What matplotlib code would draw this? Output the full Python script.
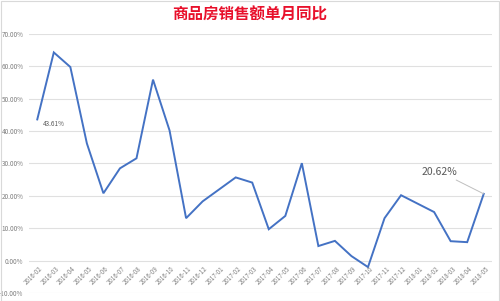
import matplotlib
matplotlib.use("Agg")
import matplotlib.pyplot as plt
from matplotlib.patches import Rectangle

plt.rcParams['font.family'] = ['Noto Sans CJK SC', 'DejaVu Sans']

months = ["2016-02", "2016-03", "2016-04", "2016-05", "2016-06", "2016-07", "2016-08",
          "2016-09", "2016-10", "2016-11", "2016-12", "2017-01", "2017-02", "2017-03",
          "2017-04", "2017-05", "2017-06", "2017-07", "2017-08", "2017-09", "2017-10",
          "2017-11", "2017-12", "2018-01", "2018-02", "2018-03", "2018-04", "2018-05"]
yoy = [43.61, 64.3, 59.8, 36.2, 20.8, 28.5, 31.6, 55.9, 40.2, 13.1, 18.3, 22.0, 25.7, 24.1,
       9.7, 13.8, 30.1, 4.5, 6.1, 1.4, -2.0, 13.1, 20.2, 17.6, 15.0, 6.0, 5.7, 20.62]
yticks = [-10, 0, 10, 20, 30, 40, 50, 60, 70]
title = "商品房销售额单月同比"

fig = plt.figure(figsize=(5.0, 3.01), dpi=100)
fig.patches.append(Rectangle((0.001, 0.001), 0.997, 0.996, transform=fig.transFigure,
                             fill=False, edgecolor='#d9d9d9', lw=0.8))
ax = fig.add_axes([0.058, 0.0266, 0.926, 0.8605])

x = list(range(len(months)))
ax.plot(x, yoy, color='#4472C4', lw=1.4, solid_joinstyle='miter')
ax.set_xlim(-0.5, len(months) - 0.5)
ax.set_ylim(-10, 70)
ax.set_yticks(yticks)
ax.set_yticklabels([f"{v:.2f}%" for v in yticks], fontsize=4.6, color='#7f7f7f')
ax.yaxis.grid(True, color='#e0e0e0', lw=0.8)
ax.set_axisbelow(True)
ax.tick_params(axis='y', length=0, pad=4)
ax.tick_params(axis='x', length=0)
ax.set_xticks([])
for s in ax.spines.values():
    s.set_visible(False)

# category labels at 0 line
for i, m in enumerate(months):
    ax.annotate(m, xy=(i, 0), xytext=(1, -3), textcoords='offset points',
                rotation=45, rotation_mode='anchor', ha='right', va='top',
                fontsize=4.4, color='#7f7f7f')

ax.annotate(f"{yoy[0]:.2f}%", xy=(0, yoy[0]), xytext=(4, -3), textcoords='offset points',
            fontsize=4.6, color='#595959', ha='left', va='center')
ax.annotate(f"{yoy[-1]:.2f}%", xy=(len(months) - 1, yoy[-1]), xytext=(-19, 16),
            textcoords='offset points', fontsize=7.5, color='#595959',
            ha='right', va='center',
            arrowprops=dict(arrowstyle='-', color='#bfbfbf', lw=0.7,
                            shrinkA=1, shrinkB=0))

fig.text(0.5, 0.95, title, ha='center', va='center', fontsize=11.2,
         fontweight='bold', color='#e8102b')

fig.savefig('out.png', dpi=100)
